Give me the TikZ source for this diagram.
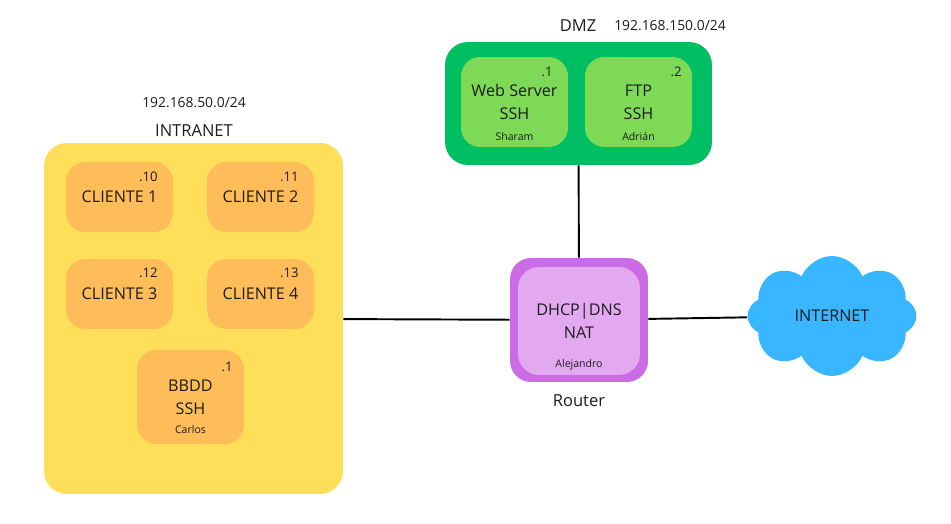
\documentclass[tikz,border=0pt]{standalone}
\usepackage{fontspec}
\setmainfont{Open Sans}
\usepackage{tikz}
\usetikzlibrary{positioning,shapes,shapes.symbols}

\definecolor{zoneyellow}{HTML}{FFDE59}
\definecolor{hostorange}{HTML}{FFBD59}
\definecolor{zonegreen}{HTML}{00BF63}
\definecolor{hostgreen}{HTML}{7ED957}
\definecolor{routerpurple}{HTML}{CB6CE6}
\definecolor{routerlight}{HTML}{E2A9F1}
\definecolor{cloudblue}{HTML}{38B6FF}
\definecolor{ink}{HTML}{1C1C1C}

\tikzstyle{line}=[-, line width=1.1pt, black]
\tikzstyle{zone}=[rectangle, draw=none, rounded corners=12pt]
\tikzstyle{host}=[rectangle, draw=none, rounded corners=11pt, text=ink,
		align=center, font=\fontsize{9.2}{13}\selectfont,
		minimum width=2.14cm, inner sep=0pt]
\tikzstyle{title}=[text=ink, font=\fontsize{9.4}{11}\selectfont, inner sep=0pt]
\tikzstyle{net}=[text=ink, font=\fontsize{7.9}{10}\selectfont, inner sep=0pt]
\tikzstyle{ip}=[anchor=east, text=ink, font=\fontsize{7.5}{9}\selectfont, inner sep=0pt]
\tikzstyle{owner}=[text=ink, font=\fontsize{6}{7}\selectfont, inner sep=0pt]

\begin{document}
\begin{tikzpicture}[x=0.02cm,y=-0.02cm]
    \useasboundingbox (0,0) rectangle (951,524);

    % intranet
    \node (intranet) at (193.5,318.5) [zone, fill=zoneyellow,
            minimum width=5.98cm, minimum height=7.02cm, rounded corners=13pt] {};
    \node (intranet-name) at (194,131) [title] {INTRANET};
    \node (intranet-net) at (194,103) [net] {192.168.50.0/24};

    \node (c1) at (119.5,197) [host, fill=hostorange, minimum height=1.4cm] {CLIENTE 1};
    \node (c2) at (260.5,197) [host, fill=hostorange, minimum height=1.4cm] {CLIENTE 2};
    \node (c3) at (119.5,294) [host, fill=hostorange, minimum height=1.4cm] {CLIENTE 3};
    \node (c4) at (260.5,294) [host, fill=hostorange, minimum height=1.4cm] {CLIENTE 4};
    \node (bbdd) at (190.5,397) [host, fill=hostorange, minimum height=1.88cm] {BBDD\\SSH};

    \node (c1-ip) at (158,177) [ip] {.10};
    \node (c2-ip) at (299,177) [ip] {.11};
    \node (c3-ip) at (158,273) [ip] {.12};
    \node (c4-ip) at (299,273) [ip] {.13};
    \node (bbdd-ip) at (233,367) [ip] {.1};
    \node (carlos) at (190.5,430) [owner] {Carlos};

    % dmz
    \node (dmz) at (578.5,103.5) [zone, fill=zonegreen,
            minimum width=5.34cm, minimum height=2.46cm, rounded corners=13pt] {};
    \node (dmz-name) at (578,26) [title] {DMZ};
    \node (dmz-net) at (670,26) [net] {192.168.150.0/24};

    \node (web) at (514.5,102) [host, fill=hostgreen, minimum height=1.8cm] {Web Server\\SSH};
    \node (ftp) at (638.5,102) [host, fill=hostgreen, minimum height=1.8cm] {FTP\\SSH};
    \node (web-ip) at (553,72) [ip] {.1};
    \node (ftp-ip) at (682,72) [ip] {.2};
    \node (sharam) at (514.5,137) [owner] {Sharam};
    \node (adrian) at (638.5,137) [owner] {Adrián};

    % router
    \node (router) at (579,320) [zone, fill=routerpurple,
            minimum width=2.76cm, minimum height=2.48cm, rounded corners=12pt] {};
    \node (router-in) at (579,321) [host, fill=routerlight, rounded corners=12pt,
            minimum width=2.44cm, minimum height=2.16cm] {DHCP|DNS\\NAT};
    \node (alejandro) at (579,365) [owner] {Alejandro};
    \node (router-name) [title, below=7pt of router] {Router};

    % internet
    \node (internet) at (832,316) [cloud, cloud puffs=8, cloud puff arc=135,
            aspect=1.5, fill=cloudblue, text=ink, inner sep=0pt,
            minimum width=3.38cm, minimum height=2.4cm,
            font=\fontsize{9.2}{11}\selectfont] {INTERNET};

    \draw[line] (intranet) -- (router);
    \draw[line] (router) -- (dmz);
    \draw[line] (router) -- (internet);

\end{tikzpicture}
\end{document}
